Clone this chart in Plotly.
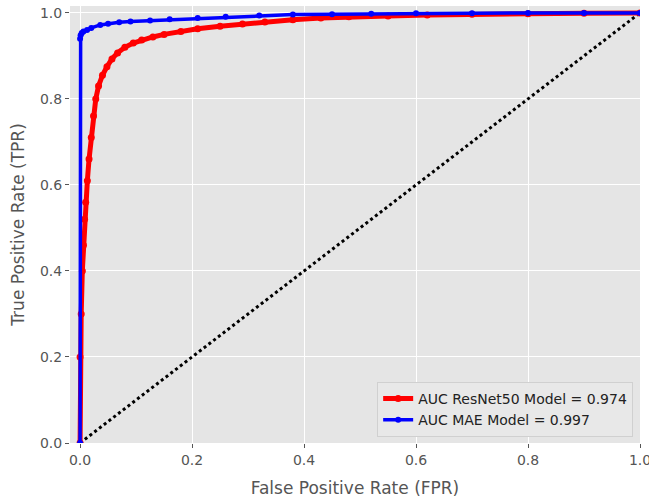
import plotly.graph_objects as go

# ResNet50 ROC readings
fpr_resnet = [0.0, 0.0, 0.002, 0.004, 0.006, 0.008, 0.010, 0.013, 0.016, 0.020, 0.024, 0.028,
              0.033, 0.040, 0.048, 0.057, 0.067, 0.080, 0.095, 0.11, 0.13, 0.15, 0.18, 0.21,
              0.25, 0.29, 0.33, 0.38, 0.43, 0.48, 0.55, 0.62, 0.70, 0.80, 0.90, 1.0]
tpr_resnet = [0.0, 0.20, 0.30, 0.40, 0.46, 0.52, 0.56, 0.61, 0.66, 0.71, 0.76, 0.80,
              0.83, 0.855, 0.875, 0.893, 0.907, 0.920, 0.930, 0.937, 0.944, 0.950, 0.957, 0.963,
              0.969, 0.974, 0.979, 0.984, 0.988, 0.991, 0.993, 0.995, 0.997, 0.998, 0.999, 1.0]

# MAE ROC readings
fpr_mae = [0.0, 0.0, 0.001, 0.003, 0.006, 0.0125, 0.02, 0.036, 0.05, 0.07, 0.09, 0.125,
           0.16, 0.21, 0.26, 0.32, 0.38, 0.45, 0.52, 0.60, 0.70, 0.80, 0.90, 1.0]
tpr_mae = [0.0, 0.94, 0.948, 0.953, 0.957, 0.960, 0.965, 0.972, 0.975, 0.978, 0.980, 0.982,
           0.985, 0.988, 0.991, 0.994, 0.996, 0.997, 0.998, 0.999, 0.999, 1.0, 1.0, 1.0]

chance = [0.0, 1.0]

label_resnet = "AUC ResNet50 Model = 0.974"
label_mae = "AUC MAE Model = 0.997"

grey = "#555555"
fig = go.Figure()
fig.add_trace(go.Scatter(x=chance, y=chance, mode="lines", showlegend=False,
                         line=dict(color="black", width=3, dash="dot")))
fig.add_trace(go.Scatter(x=fpr_resnet, y=tpr_resnet, mode="lines+markers", name=label_resnet,
                         line=dict(color="red", width=5), marker=dict(color="red", size=7)))
fig.add_trace(go.Scatter(x=fpr_mae, y=tpr_mae, mode="lines+markers", name=label_mae,
                         line=dict(color="blue", width=3.5), marker=dict(color="blue", size=6)))

axis_common = dict(showgrid=True, gridcolor="white", gridwidth=1, zeroline=False,
                   ticks="outside", ticklen=4, tickcolor=grey, tickwidth=1,
                   tickfont=dict(family="DejaVu Sans", size=14, color=grey),
                   showline=False, automargin=False, ticklabeloverflow="allow")
fig.update_xaxes(range=[-0.018, 1.0], tickvals=[0, 0.2, 0.4, 0.6, 0.8, 1.0],
                 ticktext=["0.0", "0.2", "0.4", "0.6", "0.8", "1.0"],
                 title=dict(text="False Positive Rate (FPR)", standoff=15,
                            font=dict(family="DejaVu Sans", size=17, color=grey)),
                 **axis_common)
fig.update_yaxes(range=[0, 1.016], tickvals=[0, 0.2, 0.4, 0.6, 0.8, 1.0],
                 ticktext=["0.0", "0.2", "0.4", "0.6", "0.8", "1.0"],
                 title=dict(text="True Positive Rate (TPR)", standoff=10,
                            font=dict(family="DejaVu Sans", size=17, color=grey)),
                 **axis_common)
fig.update_layout(
    width=649, height=499,
    margin=dict(l=70, r=9, t=6, b=56),
    paper_bgcolor="white", plot_bgcolor="#E5E5E5",
    legend=dict(x=0.988, y=0.014, xanchor="right", yanchor="bottom",
                bgcolor="#E8E8E8", bordercolor="#D0D0D0", borderwidth=1,
                font=dict(family="DejaVu Sans", size=14, color="#222222")),
)
fig.write_html("out.html", config={"displayModeBar": False},
               post_script="document.body.style.margin='0px';document.body.style.overflow='hidden';")
